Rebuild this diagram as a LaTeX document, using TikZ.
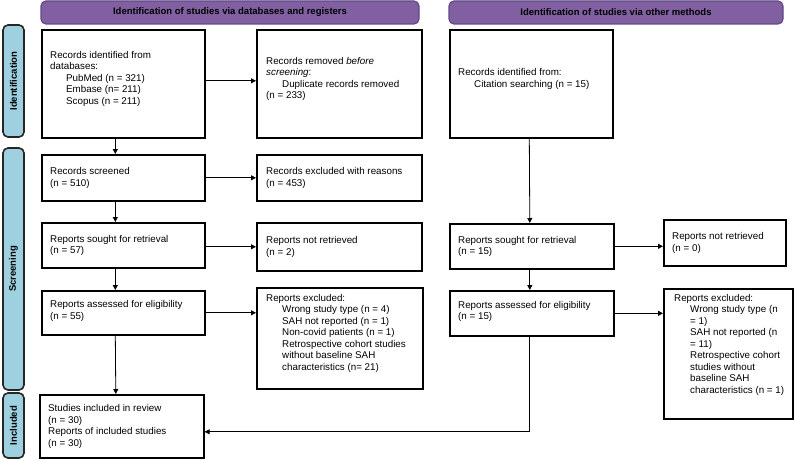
\documentclass[tikz,border=0pt]{standalone}
\usepackage{fontspec}
\setmainfont{Liberation Sans}
\usepackage{tikz}
\usepackage{xcolor}
\usetikzlibrary{arrows.meta,calc}
\definecolor{hdrPurple}{RGB}{128,96,161}
\definecolor{hdrEdge}{RGB}{98,72,136}
\definecolor{sideBlue}{RGB}{158,208,224}
\tikzset{%
  tipP/.tip={Triangle[length=5pt,width=5pt]},
  stagebox/.style={draw=black, line width=1.6pt, fill=white, anchor=north west, inner sep=0pt},
  boxtxt/.style={anchor=west, align=left, inner sep=0pt, font=\fontsize{9.8}{11.5}\selectfont},
  hdr/.style={draw=hdrEdge, line width=1.2pt, fill=hdrPurple, rounded corners=5pt},
  hdrtxt/.style={font=\fontsize{9.5}{11}\selectfont\bfseries},
  side/.style={draw=black!85, line width=1.6pt, fill=sideBlue, rounded corners=5pt},
  sidetxt/.style={rotate=90, font=\fontsize{9.5}{11}\selectfont\bfseries},
  flow/.style={line width=0.8pt, -tipP}
}
\newcommand{\ind}{\hspace*{16pt}}

\begin{document}
\begin{tikzpicture}[x=1pt,y=-1pt]
\useasboundingbox (0,0) rectangle (794,460);
% headers
\draw[hdr] (41,1) rectangle (419,24);
\node[hdrtxt] (hdrA) at (230,12.5) {Identification of studies via databases and registers};
\draw[hdr] (449,1) rectangle (783,24);
\node[hdrtxt] (hdrB) at (616,12.5) {Identification of studies via other methods};
% stage bars
\draw[side] (3,25) rectangle (24,137);
\node[sidetxt] (sideI) at (13.5,81) {Identification};
\draw[side] (3,148) rectangle (24,390);
\node[sidetxt] (sideS) at (13.5,269) {Screening};
\draw[side] (3,393) rectangle (24,458);
\node[sidetxt] (sideN) at (13.5,425.5) {Included};
% boxes: databases
\node[stagebox, minimum width=163pt, minimum height=108pt] (idDb) at (41,29) {};
\node[boxtxt] at ([xshift=9pt,yshift=5pt]idDb.west) {Records identified from\\databases:\\\ind PubMed (n = 321)\\\ind Embase (n= 211)\\\ind Scopus (n = 211)};
\node[stagebox, minimum width=165pt, minimum height=108pt] (idRm) at (256,29) {};
\node[boxtxt] at ([xshift=10pt,yshift=5pt]idRm.west) {Records removed \emph{before}\\\emph{screening}:\\\ind Duplicate records removed\\(n = 233)};
\node[stagebox, minimum width=163pt, minimum height=46pt] (scr) at (41,154) {};
\node[boxtxt] at ([xshift=9pt]scr.west) {Records screened\\(n = 510)};
\node[stagebox, minimum width=165pt, minimum height=46pt] (scrEx) at (256,154) {};
\node[boxtxt] at ([xshift=10pt]scrEx.west) {Records excluded with reasons\\(n = 453)};
\node[stagebox, minimum width=163pt, minimum height=45pt] (soughtA) at (41,222) {};
\node[boxtxt] at ([xshift=9pt]soughtA.west) {Reports sought for retrieval\\(n = 57)};
\node[stagebox, minimum width=165pt, minimum height=48pt] (notretA) at (256,222) {};
\node[boxtxt] at ([xshift=10pt]notretA.west) {Reports not retrieved\\(n = 2)};
\node[stagebox, minimum width=163pt, minimum height=44pt] (assA) at (41,290) {};
\node[boxtxt] at ([xshift=9pt,yshift=2pt]assA.west) {Reports assessed for eligibility\\(n = 55)};
\node[stagebox, minimum width=166pt, minimum height=101pt] (exA) at (256,287) {};
\node[boxtxt] at ([xshift=10pt,yshift=5pt]exA.west) {Reports excluded:\\\ind Wrong study type (n = 4)\\\ind SAH not reported (n = 1)\\\ind Non-covid patients (n = 1)\\\ind Retrospective cohort studies\\\ind without baseline SAH\\\ind characteristics (n= 21)};
\node[stagebox, minimum width=164pt, minimum height=63pt] (incl) at (39,394) {};
\node[boxtxt] at ([xshift=9pt]incl.west) {Studies included in review\\(n = 30)\\Reports of included studies\\(n = 30)};
% boxes: other methods
\node[stagebox, minimum width=163pt, minimum height=108pt] (idCit) at (449,29) {};
\node[boxtxt] at ([xshift=9pt,yshift=5pt]idCit.west) {Records identified from:\\\ind Citation searching (n = 15)};
\node[stagebox, minimum width=164pt, minimum height=45pt] (soughtB) at (449,223) {};
\node[boxtxt] at ([xshift=9pt]soughtB.west) {Reports sought for retrieval\\(n = 15)};
\node[stagebox, minimum width=122pt, minimum height=46pt] (notretB) at (663,219) {};
\node[boxtxt] at ([xshift=9pt]notretB.west) {Reports not retrieved\\(n = 0)};
\node[stagebox, minimum width=129pt, minimum height=130pt] (exB) at (663,288) {};
\node[boxtxt] at ([xshift=11pt,yshift=9pt]exB.west) {Reports excluded:\\\ind Wrong study type (n\\\ind = 1)\\\ind SAH not reported (n\\\ind = 11)\\\ind Retrospective cohort\\\ind studies without\\\ind baseline SAH\\\ind characteristics (n = 1)};
\node[stagebox, minimum width=164pt, minimum height=45pt] (assB) at (449,290) {};
\node[boxtxt] at ([xshift=9pt,yshift=2pt]assB.west) {Reports assessed for eligibility\\(n = 15)};
% connectors
\draw[flow] ([xshift=-8pt]idDb.south) -- ([xshift=-8pt]scr.north);
\draw[flow] ([xshift=-8pt]scr.south) -- ([xshift=-8pt]soughtA.north);
\draw[flow] ([xshift=-8pt]soughtA.south) -- ([xshift=-8pt]assA.north);
\draw[flow] ([xshift=-8pt]assA.south) -- ([xshift=-6pt]incl.north);
\draw[flow] ([yshift=3pt]idDb.east) -- ([yshift=3pt]idDb.east -| idRm.west);
\draw[flow] (scr.east) -- (scr.east -| scrEx.west);
\draw[flow] ([yshift=-1.5pt]soughtA.east) -- ([yshift=-1.5pt]soughtA.east -| notretA.west);
\draw[flow] (assA.east) -- (assA.east -| exA.west);
\draw[flow] ([xshift=-2pt]idCit.south) -- ([xshift=-2pt]soughtB.north);
\draw[flow] ([xshift=-2pt]soughtB.south) -- ([xshift=-2pt]assB.north);
\draw[flow] (soughtB.east) -- (soughtB.east -| notretB.west);
\draw[flow] (assB.east) -- (assB.east -| exB.west);
\draw[flow] ([xshift=-2pt]assB.south) |- ([yshift=-5.5pt]incl.east);
\end{tikzpicture}
\end{document}
